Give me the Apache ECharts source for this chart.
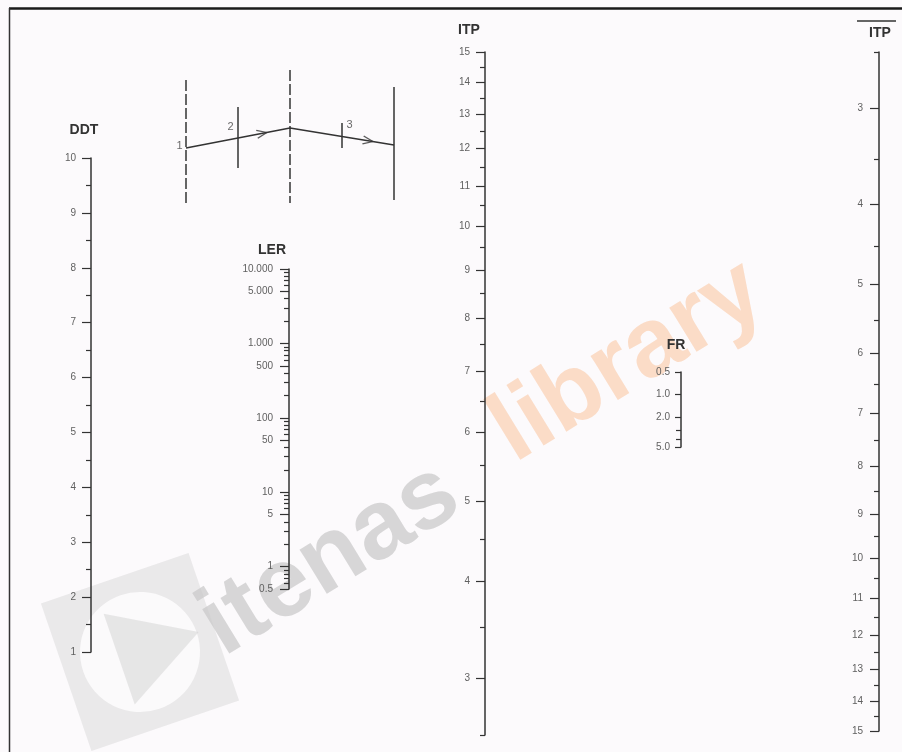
<!DOCTYPE html>
<html><head><meta charset="utf-8">
<script src="https://cdn.jsdelivr.net/npm/echarts@6/dist/echarts.min.js"></script>
<style>html,body{margin:0;padding:0;background:#fcfafc}#c{width:902px;height:752px}</style>
</head><body><div id="c"></div><script>
// ---------------- DATA ----------------
const ddtTicks  = [1,2,3,4,5,6,7,8,9,10];
const ddtLabels = ['1','2','3','4','5','6','7','8','9','10'];
const ddtMinor  = [1.5,2.5,3.5,4.5,5.5,6.5,7.5,8.5,9.5];

const lerTicks  = [0.5,1,5,10,50,100,500,1000,5000,10000];
const lerLabels = ['0.5','1','5','10','50','100','500','1.000','5.000','10.000'];
const lerMinor  = [0.6,0.7,0.8,0.9,2,3,4,6,7,8,9,20,30,40,60,70,80,90,200,300,400,600,700,800,900,2000,3000,4000,6000,7000,8000,9000];

const itpTicks  = [3,4,5,6,7,8,9,10,11,12,13,14,15];
const itpLabels = ['3','4','5','6','7','8','9','10','11','12','13','14','15'];
const itpMinor  = [2.5,3.5,4.5,5.5,6.5,7.5,8.5,9.5,10.5,11.5,12.5,13.5,14.5];

const frTicks   = [0.5,1,2,5];
const frLabels  = ['0.5','1.0','2.0','5.0'];
const frMinor   = [3,4];

const itpBarTicks  = [3,4,5,6,7,8,9,10,11,12,13,14,15];
const itpBarLabels = ['3','4','5','6','7','8','9','10','11','12','13','14','15'];
const itpBarMinor  = [2.5,3.5,4.5,5.5,6.5,7.5,8.5,9.5,10.5,11.5,12.5,13.5,14.5];

// inset schematic (axis index, position along axis)
const insetLine0 = [[0,2.0],[0,14.3]];
const insetLine1 = [[1,4.7],[1,10.8]];
const insetLine2 = [[2,1.0],[2,14.3]];
const insetLine3 = [[3,6.3],[3,8.8]];
const insetLine4 = [[4,2.7],[4,14.0]];
const insetPath  = [[0,8.8],[1,7.8],[2,6.8],[4,8.5]];
const insetArrows = [[1.46,7.34,11],[3.5,8.07,-9]];
const insetLabels = [[0,8.8,'1'],[1,7.8,'2'],[3,7.3,'3']];

// ---------------- BUILD ----------------
const INK = '#333';
const LBL = '#606060';
const FONT = 'Liberation Sans, Arial, sans-serif';
const itpT = v => Math.log10(v + 1.5);   // ITP scale function

const scales = [
  {x:91,  top:158, height:494, type:'value', min:1,   max:10,    ticks:ddtTicks, labels:ddtLabels, minor:ddtMinor, margin:15, tick:9},
  {x:289, top:269, height:320, type:'log',   min:0.5, max:10000, ticks:lerTicks, labels:lerLabels, minor:lerMinor, margin:16, tick:9},
  {x:485, top:52,  height:683, type:'value', min:2.5, max:15,    ticks:itpTicks, labels:itpLabels, minor:itpMinor, margin:15, tick:9, fwd:itpT},
  {x:681, top:372, height:75,  type:'log',   min:0.5, max:5,     ticks:frTicks,  labels:frLabels,  minor:frMinor,  margin:11, tick:6, inverse:true},
  {x:879, top:52,  height:679, type:'value', min:2.5, max:15,    ticks:itpBarTicks, labels:itpBarLabels, minor:itpBarMinor, margin:16, tick:9, fwd:itpT, inverse:true}
];

const grids = [], xAxes = [], yAxes = [];
scales.forEach(s => {
  const fwd = s.fwd || (v => v);
  const majVals = s.ticks.map(fwd);
  const lookup = v => {
    for (let i = 0; i < majVals.length; i++) {
      if (Math.abs(majVals[i] - v) < 1e-6 * Math.max(1, Math.abs(v))) return s.labels[i];
    }
    return '';
  };
  [true, false].forEach(major => {
    const gi = grids.length;
    grids.push({left:s.x, top:s.top, width:1, height:s.height, containLabel:false, outerBoundsMode:'none'});
    xAxes.push({gridIndex:gi, type:'value', show:false, min:0, max:1});
    const vals = (major ? s.ticks : s.minor).map(fwd);
    yAxes.push({
      gridIndex:gi, type:s.type, logBase:10, min:fwd(s.min), max:fwd(s.max), inverse:!!s.inverse, position:'left',
      axisLine:{show:major, onZero:false, lineStyle:{color:INK, width:1.5}},
      axisTick:{show:true, inside:false, length: major ? s.tick : 5, customValues: vals, lineStyle:{color:INK, width:1.2}},
      axisLabel:{show:major, customValues: major ? vals : undefined, margin:s.margin, color:LBL, fontSize:10, fontFamily:FONT, formatter: v => lookup(v)},
      splitLine:{show:false}, minorTick:{show:false}, splitArea:{show:false}
    });
  });
});

// inset grid
const insetGrid = grids.length;
grids.push({left:160, top:60, width:260, height:150, containLabel:false, outerBoundsMode:'none'});
xAxes.push({gridIndex:insetGrid, type:'value', show:false, min:-0.5, max:4.5});
yAxes.push({gridIndex:insetGrid, type:'value', show:false, min:0, max:15, inverse:true});

const lineSeries = (data, dashed) => ({
  type:'line', xAxisIndex:insetGrid, yAxisIndex:insetGrid, data, symbol:'none', silent:true,
  lineStyle:{color:INK, width:1.5, type: dashed ? [11,3] : 'solid'}
});
const series = [
  lineSeries(insetLine0, true),
  lineSeries(insetLine1, false),
  lineSeries(insetLine2, true),
  lineSeries(insetLine3, false),
  lineSeries(insetLine4, false),
  lineSeries(insetPath, false),
  {type:'scatter', xAxisIndex:insetGrid, yAxisIndex:insetGrid, silent:true,
   data: insetArrows.map(a => ({value:[a[0],a[1]], symbolRotate:a[2]})),
   symbol:'path://M0,0 L10,5 L0,10', symbolSize:[10,8],
   itemStyle:{color:'none', borderColor:INK, borderWidth:1.3}},
  {type:'scatter', xAxisIndex:insetGrid, yAxisIndex:insetGrid, silent:true,
   data: insetLabels.map((a,i) => ({value:[a[0],a[1]], name:a[2],
     label:{show:true, formatter:a[2], position: i===0 ? [-9,-7] : (i===1 ? [-10,-16] : [5,-13])}})),
   symbolSize:1, itemStyle:{color:'rgba(0,0,0,0)'},
   label:{color:'#444', fontSize:11, fontFamily:FONT}}
];

const titleStyle = {font:'bold 14px ' + FONT, fill:'#333', align:'center', verticalAlign:'middle'};
const graphic = [
  // watermark (behind)
  {type:'group', x:140, y:652, rotation:0.33, z:-10, silent:true, children:[
    {type:'rect', shape:{x:-78, y:-78, width:156, height:156}, style:{fill:'rgba(200,200,200,0.35)'}},
    {type:'circle', shape:{cx:0, cy:0, r:60}, style:{fill:'#fbfafb'}},
    {type:'polygon', shape:{points:[[-22,-48],[62,0],[-22,48]]}, style:{fill:'rgba(200,200,200,0.4)'}}
  ]},
  {type:'text', x:330, y:560, rotation:0.55, z:-10, silent:true,
   style:{text:'itenas', font:'bold 98px ' + FONT, fill:'rgba(170,170,170,0.45)', align:'center', verticalAlign:'middle'}},
  {type:'text', x:628, y:362, rotation:0.55, z:-10, silent:true,
   style:{text:'library', font:'bold 98px ' + FONT, fill:'rgba(250,175,120,0.4)', align:'center', verticalAlign:'middle'}},
  // frame
  {type:'line', shape:{x1:9, y1:8.5, x2:902, y2:8.5}, style:{stroke:'#1a1a1a', lineWidth:2.5}},
  {type:'line', shape:{x1:9.5, y1:8, x2:9.5, y2:752}, style:{stroke:'#333', lineWidth:1.5}},
  // axis titles
  {type:'text', x:84,  y:130, style:Object.assign({text:'DDT'}, titleStyle)},
  {type:'text', x:272, y:250, style:Object.assign({text:'LER'}, titleStyle)},
  {type:'text', x:469, y:30,  style:Object.assign({text:'ITP'}, titleStyle)},
  {type:'text', x:676, y:345, style:Object.assign({text:'FR'}, titleStyle)},
  {type:'text', x:880, y:33,  style:Object.assign({text:'ITP'}, titleStyle)},
  {type:'line', shape:{x1:857, y1:21, x2:896, y2:21}, style:{stroke:'#333', lineWidth:1.3}}
];

const chart = echarts.init(document.getElementById('c'), null, {renderer:'canvas'});
chart.setOption({
  backgroundColor:'#fcfafc',
  animation:false,
  grid:grids, xAxis:xAxes, yAxis:yAxes, series, graphic
});
</script></body></html>
